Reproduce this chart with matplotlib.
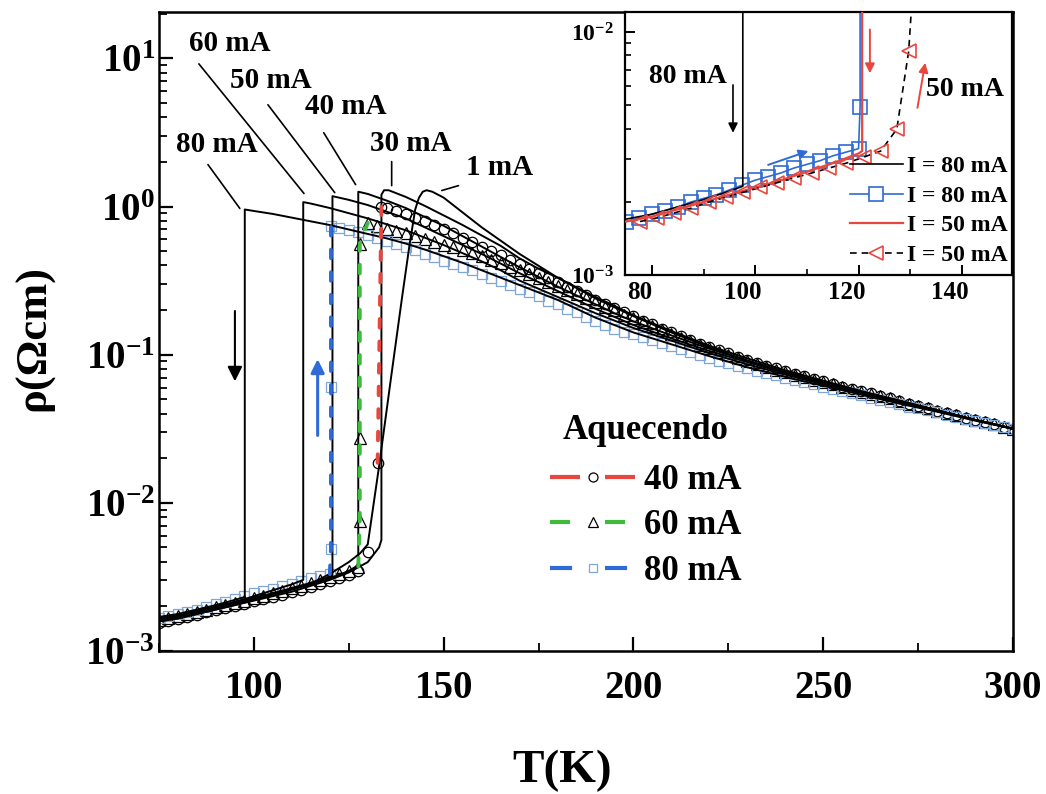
import numpy as np
import matplotlib
matplotlib.use("Agg")
import matplotlib.pyplot as plt
from matplotlib.lines import Line2D
from matplotlib.transforms import ScaledTranslation
from matplotlib.ticker import LogLocator, NullFormatter, MultipleLocator, LogFormatterMathtext

plt.rcParams['font.family'] = ['Liberation Serif', 'DejaVu Serif']
plt.rcParams['font.weight'] = 'bold'
plt.rcParams['mathtext.fontset'] = 'custom'
plt.rcParams['mathtext.rm'] = 'Liberation Serif:bold'
plt.rcParams['mathtext.it'] = 'Liberation Serif:bold:italic'
plt.rcParams['mathtext.bf'] = 'Liberation Serif:bold'

# ---------------- data (log10 of resistivity in Ohm cm) ----------------
T_GRID = [75.0, 77.5, 80.0, 82.5, 85.0, 87.5, 90.0, 92.5, 95.0, 97.5,
          100.0, 102.5, 105.0, 107.5, 110.0, 112.5, 115.0, 117.5, 120.0, 122.5,
          125.0, 127.5, 130.0, 132.5, 135.0, 137.5, 140.0, 142.5, 145.0, 147.5,
          150.0, 152.5, 155.0, 157.5, 160.0, 162.5, 165.0, 167.5, 170.0, 172.5,
          175.0, 177.5, 180.0, 182.5, 185.0, 187.5, 190.0, 192.5, 195.0, 197.5,
          200.0, 202.5, 205.0, 207.5, 210.0, 212.5, 215.0, 217.5, 220.0, 222.5,
          225.0, 227.5, 230.0, 232.5, 235.0, 237.5, 240.0, 242.5, 245.0, 247.5,
          250.0, 252.5, 255.0, 257.5, 260.0, 262.5, 265.0, 267.5, 270.0, 272.5,
          275.0, 277.5, 280.0, 282.5, 285.0, 287.5, 290.0, 292.5, 295.0, 297.5,
          300.0]

# cooling curves (black solid lines)
cool80_T = [75, 80, 85, 90, 95, 97.6, 97.6, 100, 105, 110, 115, 120, 125, 130, 135, 140, 145,
            150, 155, 160, 165, 170, 175, 180, 185, 190, 195, 200,
            210, 220, 230, 240, 250, 260, 270, 280, 290, 300]
cool80 = [-2.77, -2.75, -2.72, -2.69, -2.655, -2.635, -0.02, -0.03, -0.05, -0.075, -0.10, -0.125,
          -0.155, -0.185, -0.215, -0.25, -0.29, -0.335, -0.38, -0.43, -0.48, -0.53, -0.58, -0.63,
          -0.69, -0.75, -0.80, -0.85, -0.93, -1.01, -1.085, -1.15, -1.21, -1.27, -1.33, -1.385,
          -1.445, -1.50]

cool60_T = [75, 80, 85, 90, 95, 100, 105, 110, 113, 113, 115, 120, 125, 130, 135, 140, 145,
            150, 155, 160, 165, 170, 175, 180, 185, 190, 195, 200,
            210, 220, 230, 240, 250, 260, 270, 280, 290, 300]
cool60 = [-2.78, -2.76, -2.73, -2.70, -2.67, -2.63, -2.59, -2.55, -2.52, 0.03, 0.02, -0.01,
          -0.045, -0.08, -0.12, -0.16, -0.21, -0.26, -0.315, -0.37, -0.43, -0.50, -0.555, -0.61,
          -0.665, -0.72, -0.77, -0.82, -0.905, -0.99, -1.065, -1.135, -1.20, -1.26, -1.32, -1.38,
          -1.44, -1.50]

cool50_T = [75, 80, 85, 90, 95, 100, 105, 110, 115, 120, 120.7, 120.7, 125, 130, 135, 140, 145,
            150, 155, 160, 165, 170, 175, 180, 185, 190, 195, 200,
            210, 220, 230, 240, 250, 260, 270, 280, 290, 300]
cool50 = [-2.78, -2.76, -2.73, -2.70, -2.67, -2.64, -2.61, -2.575, -2.54, -2.50, -2.49, 0.07,
          0.045, 0.01, -0.035, -0.08, -0.14, -0.20, -0.26, -0.32, -0.385, -0.45, -0.51, -0.57,
          -0.63, -0.69, -0.745, -0.80, -0.89, -0.975, -1.05, -1.125, -1.19, -1.255, -1.315,
          -1.375, -1.44, -1.50]

cool40_T = [75, 80, 85, 90, 95, 100, 105, 110, 115, 120, 125, 127.5, 127.5, 130, 135, 140, 145,
            150, 155, 160, 165, 170, 175, 180, 185, 190, 195, 200,
            210, 220, 230, 240, 250, 260, 270, 280, 290, 300]
cool40 = [-2.79, -2.77, -2.74, -2.71, -2.68, -2.65, -2.62, -2.585, -2.55, -2.51, -2.46, -2.42,
          0.10, 0.085, 0.04, -0.01, -0.07, -0.13, -0.20, -0.27, -0.34, -0.41, -0.475, -0.54,
          -0.60, -0.66, -0.72, -0.775, -0.87, -0.96, -1.04, -1.115, -1.185, -1.25, -1.31,
          -1.375, -1.44, -1.50]

cool30_T = [75, 80, 85, 90, 95, 100, 105, 110, 115, 120, 125, 130, 133, 133.6, 133.6, 134.3,
            135.5, 137, 140, 145, 150, 155, 160, 165, 170, 175, 180, 185, 190, 195, 200,
            210, 220, 230, 240, 250, 260, 270, 280, 290, 300]
cool30 = [-2.80, -2.78, -2.75, -2.72, -2.69, -2.66, -2.63, -2.60, -2.56, -2.52, -2.47, -2.40,
          -2.30, -2.25, 0.08, 0.11, 0.11, 0.095, 0.065, 0.005, -0.06, -0.125, -0.195, -0.265,
          -0.35, -0.42, -0.48, -0.545, -0.61, -0.67, -0.735, -0.84, -0.94, -1.025, -1.105,
          -1.175, -1.245, -1.31, -1.375, -1.44, -1.50]

cool1_T = [75, 80, 85, 90, 95, 100, 105, 110, 115, 120, 125, 128, 130, 133, 136, 139, 141,
           142.5, 143.5, 144.5, 145.5, 147, 150, 155, 160, 165, 170, 175, 180, 185, 190, 195,
           200, 210, 220, 230, 240, 250, 260, 270, 280, 290, 300]
cool1 = [-2.80, -2.78, -2.75, -2.72, -2.69, -2.655, -2.62, -2.585, -2.545, -2.48, -2.40, -2.34,
         -2.28, -1.75, -1.18, -0.62, -0.26, -0.02, 0.06, 0.10, 0.11, 0.10, 0.06, -0.04, -0.14,
         -0.23, -0.32, -0.40, -0.48, -0.55, -0.62, -0.68, -0.74, -0.85, -0.95, -1.04, -1.12,
         -1.19, -1.255, -1.32, -1.38, -1.44, -1.50]

# heating curves (Aquecendo): low branch, jump, high branch
heat40_low_T = T_GRID[0:22] + [130.0, 132.6]
heat40_low = [-2.81, -2.80, -2.785, -2.77, -2.755, -2.74, -2.725, -2.71, -2.695, -2.68,
              -2.665, -2.65, -2.635, -2.62, -2.60, -2.585, -2.57, -2.55, -2.53, -2.51,
              -2.49, -2.46, -2.33, -1.73]
heat40_jump_T = []
heat40_jump = []
heat40_high_T = [133.6] + T_GRID[24:]
heat40_high = [0.00,
               -0.01, -0.03, -0.05, -0.075, -0.10, -0.125, -0.15, -0.18, -0.21, -0.24,
               -0.27, -0.30, -0.33, -0.36, -0.39, -0.42, -0.45, -0.48, -0.51, -0.54,
               -0.57, -0.60, -0.63, -0.655, -0.685, -0.71, -0.74, -0.77, -0.795, -0.825,
               -0.85, -0.875, -0.90, -0.925, -0.95, -0.97, -0.99, -1.015, -1.035, -1.055,
               -1.075, -1.09, -1.11, -1.13, -1.145, -1.165, -1.18, -1.20, -1.215, -1.23,
               -1.245, -1.26, -1.28, -1.295, -1.31, -1.33, -1.345, -1.36, -1.38, -1.395,
               -1.41, -1.425, -1.44, -1.455, -1.47, -1.485, -1.50]

heat60_low_T = T_GRID[0:22]
heat60_low = [-2.79, -2.78, -2.765, -2.75, -2.735, -2.72, -2.705, -2.69, -2.675, -2.66,
              -2.645, -2.63, -2.61, -2.595, -2.575, -2.56, -2.54, -2.52, -2.50, -2.48,
              -2.46, -2.43]
heat60_jump_T = [127.9, 127.9, 127.9]
heat60_jump = [-2.12, -1.565, -0.25]
heat60_high_T = T_GRID[22:]
heat60_high = [-0.11, -0.13, -0.15, -0.165, -0.18, -0.20, -0.22, -0.24, -0.26, -0.275,
               -0.295, -0.315, -0.335, -0.36, -0.38, -0.405, -0.43, -0.455, -0.48, -0.51,
               -0.535, -0.565, -0.59, -0.62, -0.645, -0.675, -0.70, -0.73, -0.755, -0.78,
               -0.805, -0.835, -0.86, -0.885, -0.91, -0.935, -0.955, -0.98, -1.00, -1.02,
               -1.04, -1.06, -1.08, -1.10, -1.115, -1.135, -1.15, -1.17, -1.185, -1.20,
               -1.22, -1.235, -1.25, -1.265, -1.28, -1.295, -1.31, -1.33, -1.345, -1.36,
               -1.38, -1.395, -1.41, -1.425, -1.44, -1.455, -1.47, -1.485, -1.50]

heat80_low_T = T_GRID[0:19]
heat80_low = [-2.78, -2.765, -2.75, -2.735, -2.72, -2.70, -2.685, -2.67, -2.65, -2.63,
              -2.61, -2.595, -2.58, -2.56, -2.545, -2.53, -2.51, -2.495, -2.48]
heat80_jump_T = [120.3, 120.3]
heat80_jump = [-2.31, -1.215]
heat80_high_T = [120.3] + T_GRID[19:]
heat80_high = [-0.13,
               -0.145, -0.16, -0.175, -0.19, -0.21, -0.23, -0.25, -0.27, -0.295, -0.32,
               -0.34, -0.365, -0.385, -0.41, -0.43, -0.455, -0.48, -0.505, -0.53, -0.555,
               -0.58, -0.605, -0.635, -0.66, -0.69, -0.715, -0.745, -0.77, -0.80, -0.825,
               -0.845, -0.86, -0.88, -0.90, -0.92, -0.94, -0.96, -0.98, -1.00, -1.02,
               -1.04, -1.055, -1.075, -1.09, -1.11, -1.125, -1.14, -1.155, -1.17, -1.185,
               -1.20, -1.215, -1.23, -1.245, -1.26, -1.275, -1.29, -1.305, -1.32, -1.335,
               -1.35, -1.36, -1.375, -1.39, -1.405, -1.42, -1.435, -1.45, -1.46, -1.475,
               -1.49, -1.50]

# inset-only series: 50 mA heating
inset_heat50_T = [77.7, 81, 84.3, 87.6, 91, 94.3, 97.6, 101, 104.3, 107.6, 111, 114.3,
                  117.6, 121, 124.3, 127.4, 129.7, 130.4]
inset_heat50 = [-2.78, -2.765, -2.745, -2.725, -2.70, -2.68, -2.66, -2.64, -2.62, -2.60,
                -2.58, -2.56, -2.54, -2.515, -2.49, -2.40, -2.08, -1.85]

# curve labels: (text, text position, leader start, leader end) in (T, log10 rho)
curve_labels = [
    ("80 mA", (90.3, 0.418), (87.9, 0.283), (96.3, -0.013)),
    ("60 mA", (93.7, 1.098), (85.5, 0.963), (113.2, 0.088)),
    ("50 mA", (104.5, 0.85), (103.7, 0.687), (121.3, 0.094)),
    ("40 mA", (124.2, 0.673), (118.4, 0.498), (126.8, 0.148)),
    ("30 mA", (141.3, 0.424), (136.3, 0.303), (136.3, 0.141)),
    ("1 mA", (164.7, 0.263), (153.9, 0.141), (149.5, 0.108)),
]

RED = '#e8473f'
GREEN = '#3dbb3d'
BLUE = '#2f6bd6'
LBLUE = '#7fa6d9'


def rho(v):
    return 10.0 ** np.asarray(v, dtype=float)


W, H = 1046, 794
fig = plt.figure(figsize=(W / 100, H / 100), dpi=100)
ax = fig.add_axes([159 / W, 1 - 651 / H, 854 / W, 639 / H])
ax.set_yscale('log')
ax.set_xlim(75, 300)
ax.set_ylim(1e-3, 10 ** 1.313)

# cooling curves
for T, v in [(cool1_T, cool1), (cool30_T, cool30), (cool40_T, cool40),
             (cool50_T, cool50), (cool60_T, cool60), (cool80_T, cool80)]:
    ax.plot(T, rho(v), color='black', lw=1.4, zorder=3)

# heating curves: markers + coloured dashed jump
heat_sets = [
    (heat40_low_T, heat40_low, heat40_jump_T, heat40_jump, heat40_high_T, heat40_high,
     RED, 'o', 'black', 7.5),
    (heat60_low_T, heat60_low, heat60_jump_T, heat60_jump, heat60_high_T, heat60_high,
     GREEN, '^', 'black', 8.5),
    (heat80_low_T, heat80_low, heat80_jump_T, heat80_jump, heat80_high_T, heat80_high,
     BLUE, 's', LBLUE, 6.5),
]
for lT, lv, jT, jv, hT, hv, col, mk, mec, ms in heat_sets:
    allT = list(lT) + list(jT) + list(hT)
    allv = list(lv) + list(jv) + list(hv)
    ax.plot(allT, rho(allv), linestyle='none', marker=mk, ms=ms, mfc='none', mec=mec,
            mew=0.9, zorder=2.5)
    segT = [lT[-1]] + list(jT) + [hT[0]]
    segv = [lv[-1]] + list(jv) + [hv[0]]
    ax.plot(segT, rho(segv), color=col, lw=2.8, dashes=(2.2, 3.6), zorder=4,
            dash_capstyle='round')

# curve labels with leader lines
for txt, tpos, p0, p1 in curve_labels:
    ax.text(tpos[0], 10 ** tpos[1], txt, fontsize=21, fontweight='bold',
            ha='center', va='center', zorder=6)
    ax.annotate('', xy=(p1[0], 10 ** p1[1]), xytext=(p0[0], 10 ** p0[1]),
                arrowprops=dict(arrowstyle='-', lw=1.2, color='black',
                                shrinkA=0, shrinkB=0), zorder=6)

# arrows in the main panel
ax.annotate('', xy=(95, 10 ** -1.18), xytext=(95, 10 ** -0.705),
            arrowprops=dict(arrowstyle='-|>', color='black', lw=1.5,
                            mutation_scale=22, shrinkA=0, shrinkB=0))
ax.annotate('', xy=(116.8, 10 ** -1.03), xytext=(116.8, 10 ** -1.545),
            arrowprops=dict(arrowstyle='-|>', color=BLUE, lw=2.2,
                            mutation_scale=20, shrinkA=0, shrinkB=0))

# axes styling
ax.xaxis.set_major_locator(MultipleLocator(50))
ax.xaxis.set_minor_locator(MultipleLocator(25))
ax.yaxis.set_major_locator(LogLocator(base=10, numticks=10))
ax.yaxis.set_minor_locator(LogLocator(base=10, subs=np.arange(2, 10), numticks=20))
ax.yaxis.set_minor_formatter(NullFormatter())
ax.yaxis.set_major_formatter(LogFormatterMathtext())
ax.tick_params(which='both', direction='in', top=False, right=False)
ax.tick_params(which='major', length=10, width=1.6, labelsize=28)
ax.tick_params(which='minor', length=6, width=1.3)
ax.tick_params(axis='x', which='major', pad=14)
ax.tick_params(axis='y', which='major', pad=3)
for s in ax.spines.values():
    s.set_linewidth(1.8)

ax.set_xlabel('T(K)', fontsize=34, fontweight='bold')
ax.xaxis.set_label_coords((562 - 159) / 854, (651 - 750) / 639)
ax.set_ylabel('ρ(Ωcm)', fontsize=32, fontweight='bold')
ax.yaxis.set_label_coords((54 - 159) / 854, (651 - 338) / 639)

# main legend
h40 = Line2D([], [], color=RED, lw=3, dashes=(7.2, 6.0), marker='o', ms=6.5,
             mfc='white', mec='black', mew=0.9)
h60 = Line2D([], [], color=GREEN, lw=3, dashes=(4.8, 8.4), marker='^', ms=7,
             mfc='white', mec='black', mew=0.9)
h80 = Line2D([], [], color=BLUE, lw=3, dashes=(5.3, 7.9), marker='s', ms=6,
             mfc='white', mec=LBLUE, mew=0.9)
leg = ax.legend([h40, h60, h80], ['40 mA', '60 mA', '80 mA'], title='Aquecendo',
                loc='upper left', bbox_to_anchor=(550 / W, 1 - 414 / H),
                bbox_transform=fig.transFigure, frameon=False, fontsize=25,
                title_fontsize=25, handlelength=2.45, handletextpad=0.25,
                labelspacing=0.36, borderpad=0, borderaxespad=0)
leg.get_title().set_fontweight('bold')
leg._legend_box.sep = 12

# ---------------- inset ----------------
axin = fig.add_axes([625 / W, 1 - 275 / H, 387 / W, 263 / H])
axin.set_facecolor('white')
axin.set_yscale('log')
axin.set_xlim(74.8, 149.7)
axin.set_ylim(1e-3, 10 ** -1.918)

axin.plot(cool80_T, rho(cool80), color='black', lw=1.2, zorder=3)
h80_allT = list(heat80_low_T) + list(heat80_jump_T) + list(heat80_high_T)
h80_allv = list(heat80_low) + list(heat80_jump) + list(heat80_high)
axin.plot(h80_allT, rho(h80_allv), color=BLUE, lw=1.2, marker='s', ms=9.5, mfc='none',
          mec=BLUE, mew=1.2, zorder=2)
axin.plot(cool50_T, rho(cool50), color=RED, lw=1.6, zorder=3)
axin.plot(inset_heat50_T, rho(inset_heat50), color='black', lw=1.2, ls=(0, (4, 3)),
          marker='<', ms=10, mfc='none', mec=RED, mew=1.2, zorder=4)

axin.text(87.0, 10 ** -2.185, '80 mA', fontsize=20, fontweight='bold', ha='center', va='center')
axin.text(140.6, 10 ** -2.238, '50 mA', fontsize=20, fontweight='bold', ha='center', va='center')
axin.annotate('', xy=(95.7, 10 ** -2.415), xytext=(95.7, 10 ** -2.218),
              arrowprops=dict(arrowstyle='-|>', color='black', lw=1.2, mutation_scale=14,
                              shrinkA=0, shrinkB=0))
axin.annotate('', xy=(122.2, 10 ** -2.17), xytext=(122.2, 10 ** -1.99),
              arrowprops=dict(arrowstyle='-|>', color=RED, lw=1.4, mutation_scale=14,
                              shrinkA=0, shrinkB=0))
axin.annotate('', xy=(132.9, 10 ** -2.127), xytext=(131.4, 10 ** -2.312),
              arrowprops=dict(arrowstyle='-|>', color=RED, lw=1.4, mutation_scale=14,
                              shrinkA=0, shrinkB=0))
axin.annotate('', xy=(110.3, 10 ** -2.49), xytext=(102.5, 10 ** -2.547),
              arrowprops=dict(arrowstyle='-|>', color=BLUE, lw=1.4, mutation_scale=14,
                              shrinkA=0, shrinkB=0))

axin.xaxis.set_major_locator(MultipleLocator(20))
axin.xaxis.set_minor_locator(MultipleLocator(10))
axin.yaxis.set_major_locator(LogLocator(base=10, numticks=10))
axin.yaxis.set_minor_locator(LogLocator(base=10, subs=np.arange(2, 10), numticks=20))
axin.yaxis.set_minor_formatter(NullFormatter())
axin.yaxis.set_major_formatter(LogFormatterMathtext())
axin.tick_params(which='both', direction='in', top=False, right=False)
axin.tick_params(which='major', length=7, width=1.4)
axin.tick_params(which='minor', length=4, width=1.2)
axin.tick_params(axis='x', which='major', labelsize=18, pad=4)
axin.tick_params(axis='y', which='major', labelsize=17, pad=8)
for s in axin.spines.values():
    s.set_linewidth(1.6)
# the inset's x tick labels sit slightly left of their ticks in the reference
shift = ScaledTranslation(-0.12, 0, fig.dpi_scale_trans)
for lbl in axin.get_xticklabels():
    lbl.set_transform(lbl.get_transform() + shift)

ih1 = Line2D([], [], color='black', lw=1.2)
ih2 = Line2D([], [], color=BLUE, lw=1.2, marker='s', ms=9.5, mfc='white', mec=BLUE, mew=1.2)
ih3 = Line2D([], [], color=RED, lw=1.6)
ih4 = Line2D([], [], color='black', lw=1.2, ls=(0, (4, 3)), marker='<', ms=10,
             mfc='white', mec=RED, mew=1.2)
axin.legend([ih1, ih2, ih3, ih4], ['I = 80 mA', 'I = 80 mA', 'I = 50 mA', 'I = 50 mA'],
            loc='lower right', bbox_to_anchor=(1008 / W, 1 - 266 / H),
            bbox_transform=fig.transFigure, frameon=False, fontsize=17,
            handlelength=2.25, handletextpad=0.2, labelspacing=0.34,
            borderpad=0, borderaxespad=0)

fig.savefig('out.png', dpi=100)
